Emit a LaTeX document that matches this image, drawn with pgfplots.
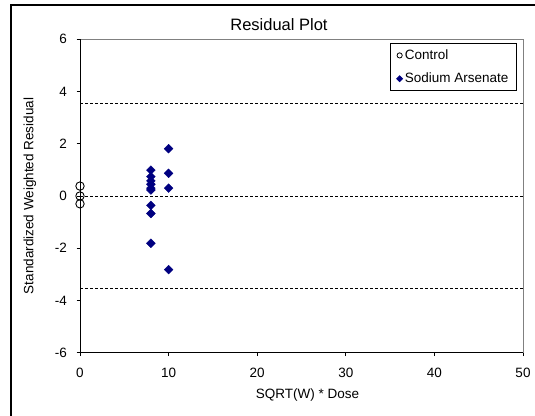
\documentclass[border=0pt]{standalone}
\usepackage{fontspec}
\setmainfont{Liberation Sans}
\usepackage{pgfplots}
\pgfplotsset{compat=1.18}
\definecolor{navy}{RGB}{0,0,128}
\definecolor{framegray}{RGB}{128,128,128}
\newcommand{\lblfont}{\fontsize{13.5bp}{16bp}\selectfont}
\begin{document}
\begin{tikzpicture}
\useasboundingbox (0,0) rectangle (535bp,416bp);
% outer chart frame
\draw[line width=1.2bp] (11bp,-10bp) -- (11bp,411bp) -- (560bp,411bp);
\begin{axis}[
  at={(80bp,63.3bp)}, anchor=south west,
  scale only axis, width=443bp, height=313.4bp,
  xmin=0, xmax=50, ymin=-6, ymax=6,
  xtick={0,10,...,50}, ytick={-6,-4,...,6},
  xtick pos=left, ytick pos=left,
  tick align=outside, major tick length=3.5bp,
  tick style={black, line width=0.8bp},
  axis line style={draw=none},
  clip=false,
  /pgf/number format/assume math mode=true,
  tick label style={font=\lblfont},
  xticklabel style={yshift=-8bp},
  yticklabel style={xshift=-6bp},
  xlabel={SQRT(W) * Dose},
  xlabel style={font=\lblfont, at={(axis description cs:0.5,0)}, anchor=center, yshift=-42.3bp, xshift=6bp},
  legend cell align=left,
  legend style={at={(rel axis cs:1,1)}, anchor=north east, xshift=-6bp, yshift=-4bp,
    draw=black, line width=1bp, font=\lblfont, row sep=8bp,
    inner xsep=6bp, inner ysep=4bp},
]
% plot area edges
\draw[framegray, line width=0.9bp] (rel axis cs:0,1) -- (rel axis cs:1,1) -- (rel axis cs:1,0);
\draw[black, line width=1bp] (rel axis cs:0,1) -- (rel axis cs:0,0) -- (rel axis cs:1,0);
% reference lines
\addplot[forget plot, black, line width=0.7bp, dash pattern=on 3bp off 2bp] coordinates {(0,3.54) (50,3.54)};
\addplot[forget plot, black, line width=0.7bp, dash pattern=on 3bp off 2bp] coordinates {(0,0) (50,0)};
\addplot[forget plot, black, line width=0.7bp, dash pattern=on 3bp off 2bp] coordinates {(0,-3.54) (50,-3.54)};
% residuals
\addplot[only marks, mark=o, mark size=4.2bp, mark options={black, line width=0.9bp},
  legend image code/.code={\draw[black, line width=0.8bp] (0.3cm,0bp) circle (2.6bp);}]
  coordinates {(0,0.38) (0,0) (0,-0.30)};
\addlegendentry{Control}
\addplot[only marks, mark=square*, mark size=3.1bp, mark options={navy, fill=navy, rotate=45},
  legend image code/.code={\fill[navy] (0.3cm,2.8bp) -- ++(2.8bp,-2.8bp) -- ++(-2.8bp,-2.8bp) -- ++(-2.8bp,2.8bp) -- cycle;}]
  coordinates {(8,0.99) (8,0.74) (8,0.58) (8,0.45) (8,0.30) (8,0.23) (8,-0.36) (8,-0.67) (8,-1.81)
               (10,1.81) (10,0.87) (10,0.30) (10,-2.82)};
\addlegendentry{Sodium Arsenate}
\end{axis}
\node[font=\fontsize{16.5bp}{19bp}\selectfont] at (279bp,391bp) {Residual Plot};
\node[font=\lblfont, rotate=90] at (30bp,220bp) {Standardized Weighted Residual};
\end{tikzpicture}
\end{document}
